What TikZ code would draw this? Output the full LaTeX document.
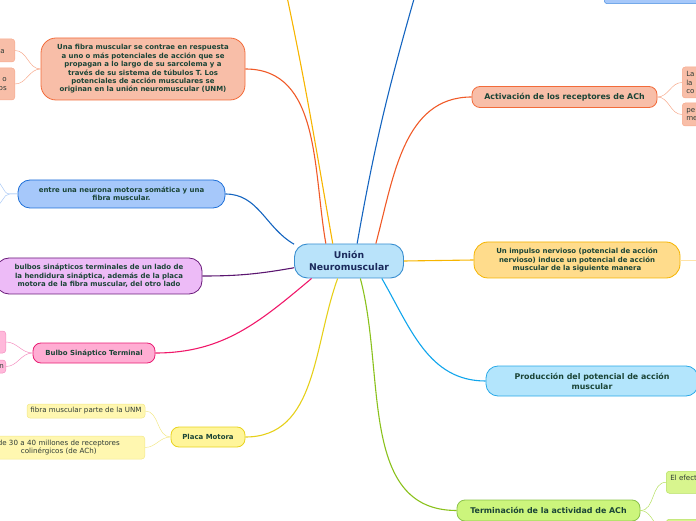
\documentclass[tikz,border=0pt]{standalone}
\usepackage{fontspec}
\setmainfont{DejaVu Sans}
\usepackage{xcolor}
\definecolor{txt}{HTML}{1A4436}
\definecolor{subtxt}{HTML}{2E3B36}
\definecolor{cnt}{HTML}{1B2A5C}
\definecolor{cnf}{HTML}{B9E3FA}
\definecolor{cnb}{HTML}{3A8FD0}
\definecolor{salf}{HTML}{F8BEA8}
\definecolor{salb}{HTML}{F26B3A}
\definecolor{sall}{HTML}{F05A28}
\definecolor{salc}{HTML}{F7A98C}
\definecolor{bluf}{HTML}{A6C8FA}
\definecolor{blub}{HTML}{1D6FD8}
\definecolor{blul}{HTML}{1565C0}
\definecolor{bluc}{HTML}{A9C9F5}
\definecolor{purf}{HTML}{EDBBF7}
\definecolor{purb}{HTML}{6A1B7A}
\definecolor{purl}{HTML}{5B1670}
\definecolor{pinf}{HTML}{FFADD3}
\definecolor{pinb}{HTML}{E91E74}
\definecolor{pinl}{HTML}{F0186A}
\definecolor{pinc}{HTML}{F48FC0}
\definecolor{pinf2}{HTML}{FFB8DA}
\definecolor{yelf}{HTML}{FFF59A}
\definecolor{yelb}{HTML}{E8D31E}
\definecolor{yell}{HTML}{E6D01A}
\definecolor{yelc}{HTML}{F3E88A}
\definecolor{yelf2}{HTML}{FFF7B0}
\definecolor{ambf}{HTML}{FFDC8C}
\definecolor{ambb}{HTML}{F5B400}
\definecolor{ambl}{HTML}{F7B500}
\definecolor{ambc}{HTML}{FFE3A8}
\definecolor{lblf}{HTML}{B3E5FC}
\definecolor{lblb}{HTML}{29A9E8}
\definecolor{lbll}{HTML}{10A5EC}
\definecolor{grnf}{HTML}{CCF57C}
\definecolor{grnb}{HTML}{8BC34A}
\definecolor{grnl}{HTML}{8AC11C}
\definecolor{grnc}{HTML}{B5E061}
\definecolor{grnf2}{HTML}{D8F58E}
\definecolor{topb}{HTML}{4A8FE0}

\begin{document}
\begin{tikzpicture}[x=1pt,y=1pt,
  main/.style={draw=cnb,fill=cnf,line width=0.9pt,rounded corners=13pt,minimum width=109pt,minimum height=34pt,align=center,text=cnt,font=\fontsize{9.3}{12}\selectfont\bfseries},
  topic/.style={line width=0.8pt,align=center,text=txt,inner sep=2pt,font=\fontsize{6.95}{8.4}\selectfont\bfseries},
  bigtopic/.style={topic,font=\fontsize{7.9}{9.8}\selectfont\bfseries},
  sub/.style={line width=0.5pt,rounded corners=3pt,inner sep=3pt,text=subtxt,font=\fontsize{7.1}{8.6}\selectfont},
  branch/.style={line width=1.1pt},
  twig/.style={line width=0.5pt}]
\useasboundingbox (0,0) rectangle (696,520);
\clip (0,0) rectangle (696,520);

\node[main] (cn) at (349,259) {Unión\\Neuromuscular};

\node[topic,draw=salb,fill=salf,minimum width=204pt,minimum height=62pt,rounded corners=15pt] (fibra) at (143,451) {Una fibra muscular se contrae en respuesta\\a uno o más potenciales de acción que se\\propagan a lo largo de su sarcolema y a\\través de su sistema de túbulos T. Los\\potenciales de acción musculares se\\originan en la unión neuromuscular (UNM)};
\node[sub,draw=salc,fill=salf,anchor=east,minimum height=23pt,text width=30pt,align=right,inner xsep=10pt] (fibraA) at (15,469.5) {la};
\node[sub,draw=salc,fill=salf,anchor=east,minimum height=32pt,text width=30pt,align=right,inner xsep=8pt] (fibraB) at (15,436) {o\\os};

\node[topic,draw=blub,fill=bluf,minimum width=207pt,minimum height=28pt,rounded corners=12pt] (neurona) at (121.5,326) {entre una neurona motora somática y una\\fibra muscular.};
\coordinate (neuronaA) at (-4,338);
\coordinate (neuronaB) at (-4,315);

\node[topic,draw=purb,fill=purf,minimum width=206pt,minimum height=36pt,rounded corners=13pt] (bulbos) at (99,244) {bulbos sinápticos terminales de un lado de\\la hendidura sináptica, además de la placa\\motora de la fibra muscular, del otro lado};

\node[topic,draw=pinb,fill=pinf,minimum width=122pt,minimum height=20pt,rounded corners=8pt] (bulbo) at (94,167) {Bulbo Sináptico Terminal};
\node[sub,draw=pinc,fill=pinf2,anchor=east,minimum width=30pt,minimum height=22pt] (bulboA) at (6,178) {};
\node[sub,draw=pinc,fill=pinf2,anchor=east,minimum height=13pt,text width=20pt,align=right,inner xsep=2pt,inner ysep=1pt] (bulboB) at (6,153.5) {n};

\node[topic,draw=yelb,fill=yelf,minimum width=74pt,minimum height=20pt,rounded corners=8pt] (placa) at (208,83) {Placa Motora};
\node[sub,draw=yelc,fill=yelf2,minimum width=118pt,minimum height=14pt,inner ysep=1pt] (placaA) at (86,109) {fibra muscular parte de la UNM};
\node[sub,draw=yelc,fill=yelf2,anchor=east,minimum height=23pt,text width=166pt,align=center,inner xsep=3pt] (placaB) at (145,72.5) {de 30 a 40 millones de receptores\\colinérgicos (de ACh)};

\node[bigtopic,draw=salb,fill=salf,minimum width=185pt,minimum height=21pt,rounded corners=8pt] (activacion) at (564.5,423) {Activación de los receptores de ACh};
\node[sub,draw=salc,fill=salf,anchor=west,minimum height=31pt,text width=40pt,align=left,inner xsep=4pt] (activacionA) at (682,437.5) {La\\la\\co};
\node[sub,draw=salc,fill=salf,anchor=west,minimum height=23pt,text width=40pt,align=left,inner xsep=4pt] (activacionB) at (682,405.5) {pe\\me};

\node[topic,draw=ambb,fill=ambf,minimum width=206pt,minimum height=36pt,rounded corners=14pt] (impulso) at (577,260) {Un impulso nervioso (potencial de acción\\nervioso) induce un potencial de acción\\muscular de la siguiente manera};
\coordinate (impulsoA) at (702,260);

\node[bigtopic,draw=lblb,fill=lblf,minimum width=212pt,minimum height=30pt,rounded corners=12pt] (produccion) at (592,139) {Producción del potencial de acción\\muscular};

\node[bigtopic,draw=grnb,fill=grnf,minimum width=183pt,minimum height=21pt,rounded corners=8pt] (terminacion) at (548.5,9.5) {Terminación de la actividad de ACh};
\node[sub,draw=grnc,fill=grnf2,anchor=north west,minimum height=22pt,text width=40pt,align=left,inner xsep=4pt] (terminacionA) at (666,49) {El efect\\\phantom{x}};
\node[sub,draw=grnc,fill=grnf2,anchor=north west,minimum width=40pt,minimum height=22pt] (terminacionB) at (666,1) {};

\node[sub,draw=topb,fill=bluf,anchor=south west,minimum width=100pt,minimum height=20pt] (topbox) at (604,516) {};
\coordinate (topblue) at (416,528);
\coordinate (topamber) at (286,528);

\draw[branch,sall] (cn.143) to[out=100,in=0] (fibra.east);
\draw[branch,ambl] (cn.133) to[out=100,in=-78] (topamber);
\draw[branch,blul] (cn.65) to[out=80,in=-106] (topblue);
\draw[branch,sall] (cn.33) to[out=75,in=180] (activacion.west);
\draw[branch,blul] (cn.163) to[out=150,in=0] (neurona.east);
\draw[branch,purl] (cn.187) to[out=190,in=0] (bulbos.east);
\draw[branch,pinl] (cn.205) to[out=220,in=0] (bulbo.east);
\draw[branch,yell] (cn.237) to[out=250,in=0] (placa.east);
\draw[branch,grnl] (cn.303) to[out=285,in=180] (terminacion.west);
\draw[branch,lbll] (cn.332) to[out=300,in=180] (produccion.west);
\draw[branch,ambl] (cn.east) -- (impulso.west);

\draw[twig,salc] (fibra.west) to[out=180,in=0] (fibraA.east);
\draw[twig,salc] (fibra.west) to[out=180,in=0] (fibraB.east);
\draw[twig,bluc] (neurona.west) -- ++(-8,0) to[out=180,in=0] (neuronaA);
\draw[twig,bluc] (neurona.west) -- ++(-8,0) to[out=180,in=0] (neuronaB);
\draw[twig,pinc] (bulbo.west) to[out=180,in=0] (bulboA.east);
\draw[twig,pinc] (bulbo.west) to[out=180,in=0] (bulboB.east);
\draw[twig,yelc] (placa.west) to[out=180,in=0] (placaA.east);
\draw[twig,yelc] (placa.west) to[out=180,in=0] (placaB.east);
\draw[twig,salc] (activacion.east) to[out=0,in=180] (activacionA.west);
\draw[twig,salc] (activacion.east) to[out=0,in=180] (activacionB.west);
\draw[twig,ambc] (impulso.east) -- (impulsoA);
\draw[twig,grnc] (terminacion.east) to[out=0,in=180] (terminacionA.west);
\draw[twig,grnc] (terminacion.east) to[out=0,in=180] (terminacionB.west);
\end{tikzpicture}
\end{document}
